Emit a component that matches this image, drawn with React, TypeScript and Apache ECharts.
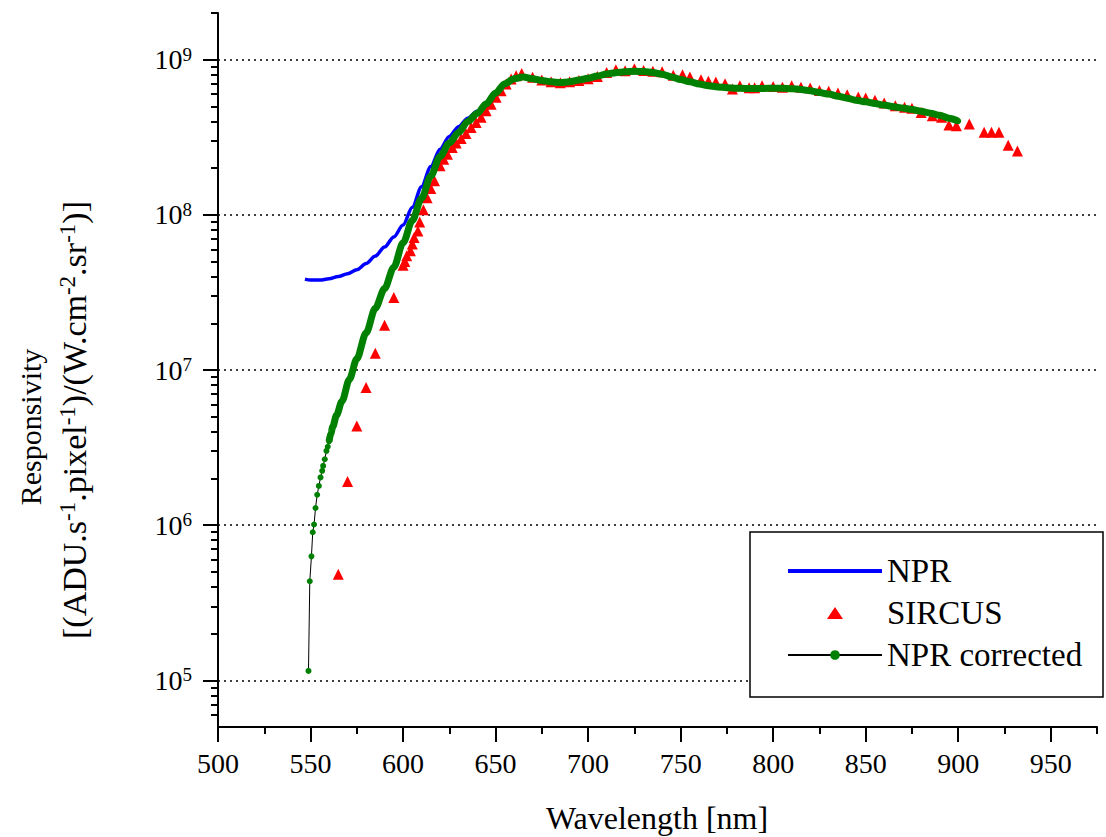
import React, { useEffect, useRef } from 'react';
import * as echarts from 'echarts';

// ---------- axis ticks ----------
const xTicks = [500, 550, 600, 650, 700, 750, 800, 850, 900, 950];
const xMinorTicks = [525, 575, 625, 675, 725, 775, 825, 875, 925, 975];
const yTickExponents = [5, 6, 7, 8, 9];
const yMinorTickValues = [
  6e4, 7e4, 8e4, 9e4,
  2e5, 3e5, 4e5, 5e5, 6e5, 7e5, 8e5, 9e5,
  2e6, 3e6, 4e6, 5e6, 6e6, 7e6, 8e6, 9e6,
  2e7, 3e7, 4e7, 5e7, 6e7, 7e7, 8e7, 9e7,
  2e8, 3e8, 4e8, 5e8, 6e8, 7e8, 8e8, 9e8,
  2e9,
];

// ---------- NPR (blue line) ----------
const nprWavelength = [
  547, 550, 555, 560, 565, 570, 575, 580, 585, 590, 595, 600, 605, 610, 615, 620, 625, 630, 635, 640,
  645, 650, 655, 660, 665, 670, 675, 680, 685, 690, 695, 700, 705, 710, 715, 720, 725, 730, 735, 740,
  745, 750, 755, 760, 765, 770, 775, 780, 785, 790, 795, 800, 805, 810, 815, 820, 825, 830, 835, 840,
  845, 850, 855, 860, 865, 870, 875, 880, 885, 890, 895, 900,
];
const nprValue = [
  3.85e7, 3.8e7, 3.8e7, 3.87e7, 4.0e7, 4.18e7, 4.43e7, 4.85e7, 5.42e7, 6.2e7, 7.2e7, 8.6e7, 1.12e8, 1.52e8, 2.05e8, 2.65e8, 3.2e8, 3.7e8, 4.2e8, 4.65e8,
  5.3e8, 6.15e8, 7.0e8, 7.55e8, 7.75e8, 7.55e8, 7.35e8, 7.2e8, 7.13e8, 7.2e8, 7.4e8, 7.6e8, 7.85e8, 8.1e8, 8.25e8, 8.36e8, 8.41e8, 8.38e8, 8.28e8, 8.05e8,
  7.75e8, 7.45e8, 7.2e8, 6.98e8, 6.8e8, 6.68e8, 6.6e8, 6.55e8, 6.53e8, 6.53e8, 6.53e8, 6.55e8, 6.55e8, 6.5e8, 6.43e8, 6.3e8, 6.15e8, 6.0e8, 5.82e8, 5.65e8,
  5.47e8, 5.35e8, 5.22e8, 5.1e8, 4.98e8, 4.88e8, 4.78e8, 4.65e8, 4.52e8, 4.38e8, 4.2e8, 4.02e8,
];

// ---------- SIRCUS (red triangles) ----------
const sircusWavelength = [
  565, 570, 575, 580, 585, 590, 595, 600, 601, 602, 604, 605, 606, 608, 609, 611, 613, 615, 617, 620,
  622, 624, 626.6, 628.7, 631.4, 634, 636.8, 639.5, 642.2, 644.9, 647.6, 650.3, 653, 655.7, 658.4, 661.1, 664.1,
  670, 675, 680, 685, 690, 695, 700, 705, 710, 715, 720, 725, 730, 735, 740, 746, 751, 755, 761, 765, 769, 774,
  778, 782, 787, 790, 794, 800, 805, 810, 815, 820, 825, 830, 835, 840, 846, 850, 855, 860, 866, 871, 875, 880,
  886, 891, 895, 899, 906, 914, 918, 922, 927, 932,
];
const sircusValue = [
  4.82e5, 1.91e6, 4.36e6, 7.71e6, 1.28e7, 1.94e7, 2.93e7, 4.74e7, 5.0e7, 5.44e7, 5.86e7, 6.48e7, 7.15e7, 7.88e7, 9.01e7, 1.08e8, 1.29e8, 1.48e8, 1.66e8, 2.07e8,
  2.28e8, 2.46e8, 2.72e8, 2.9e8, 3.11e8, 3.35e8, 3.66e8, 3.94e8, 4.25e8, 4.69e8, 5.17e8, 5.72e8, 6.31e8, 6.97e8, 7.5e8, 7.87e8, 8.16e8,
  7.7e8, 7.4e8, 7.2e8, 7.1e8, 7.2e8, 7.35e8, 7.53e8, 7.8e8, 8.28e8, 8.61e8, 8.5e8, 8.74e8, 8.53e8, 8.41e8, 8.36e8, 7.93e8, 8.0e8, 7.73e8, 7.43e8, 7.25e8, 7.17e8, 7.0e8,
  6.47e8, 6.8e8, 6.6e8, 6.6e8, 6.79e8, 6.73e8, 6.65e8, 6.79e8, 6.65e8, 6.56e8, 6.34e8, 6.25e8, 6.09e8, 5.94e8, 5.74e8, 5.66e8, 5.47e8, 5.25e8, 5.05e8, 4.94e8, 4.87e8, 4.57e8,
  4.35e8, 4.26e8, 3.8e8, 3.75e8, 3.85e8, 3.41e8, 3.41e8, 3.41e8, 2.81e8, 2.58e8,
];

// ---------- NPR corrected (green dots, black line) ----------
const correctedWavelength = [
  548.9, 549.6, 550.5, 551.2, 551.9, 552.7, 553.6, 554.5, 555.4, 556.3, 556.8, 557.7, 558.6, 559.3, 560,
  561, 562, 564, 567, 571, 575, 580, 585, 590, 595, 600, 605, 610, 615, 620, 625, 630, 635, 640,
  645, 650, 655, 660, 665, 670, 675, 680, 685, 690, 695, 700, 705, 710, 715, 720, 725, 730, 735, 740,
  745, 750, 755, 760, 765, 770, 775, 780, 785, 790, 795, 800, 805, 810, 815, 820, 825, 830, 835, 840,
  845, 850, 855, 860, 865, 870, 875, 880, 885, 890, 895, 900,
];
const correctedValue = [
  1.15e5, 4.35e5, 6.3e5, 9.0e5, 1.01e6, 1.29e6, 1.57e6, 1.79e6, 2.03e6, 2.24e6, 2.41e6, 2.66e6, 3.01e6, 3.2e6, 3.47e6,
  3.9e6, 4.3e6, 5.1e6, 6.3e6, 8.7e6, 1.18e7, 1.73e7, 2.5e7, 3.35e7, 4.6e7, 6.6e7, 9.2e7, 1.28e8, 1.78e8, 2.38e8, 2.9e8, 3.4e8, 4.0e8, 4.5e8,
  5.2e8, 6.1e8, 7.0e8, 7.55e8, 7.75e8, 7.55e8, 7.35e8, 7.2e8, 7.13e8, 7.2e8, 7.4e8, 7.6e8, 7.85e8, 8.1e8, 8.25e8, 8.36e8, 8.41e8, 8.38e8, 8.28e8, 8.05e8,
  7.75e8, 7.45e8, 7.2e8, 6.98e8, 6.8e8, 6.68e8, 6.6e8, 6.55e8, 6.53e8, 6.53e8, 6.53e8, 6.55e8, 6.55e8, 6.5e8, 6.43e8, 6.3e8, 6.15e8, 6.0e8, 5.82e8, 5.65e8,
  5.47e8, 5.35e8, 5.22e8, 5.1e8, 4.98e8, 4.88e8, 4.78e8, 4.65e8, 4.52e8, 4.38e8, 4.2e8, 4.02e8,
];

const X_MIN = 500;
const X_MAX = 975;
const Y_MIN = 5e4;
const Y_MAX = 2e9;

const FONT = 'Liberation Serif';

const pairs = (xs: number[], ys: number[]) => xs.map((x, i) => [x, Math.log10(ys[i])]);

export default function App() {
  const ref = useRef<HTMLDivElement>(null);

  useEffect(() => {
    if (!ref.current) return;
    const chart = echarts.init(ref.current, undefined, { renderer: 'svg' });

    const correctedPairs = pairs(correctedWavelength, correctedValue);
    const bandPairs = correctedPairs.filter((p) => p[0] >= 560);

    const axisLineStyle = { color: '#000', width: 2 };

    const option: any = {
      animation: false,
      backgroundColor: '#fff',
      grid: { left: 218, right: 9, top: 13, bottom: 110, containLabel: false, outerBoundsMode: 'none' },
      xAxis: [
        {
          type: 'value', min: X_MIN, max: X_MAX, position: 'bottom',
          axisLine: { onZero: false, lineStyle: axisLineStyle },
          axisTick: { customValues: xTicks, length: 15, lineStyle: axisLineStyle },
          axisLabel: { customValues: xTicks, margin: 22, color: '#000', fontFamily: FONT, fontSize: 28 },
          splitLine: { show: false },
        },
        {
          type: 'value', min: X_MIN, max: X_MAX, position: 'bottom',
          axisLine: { show: false, onZero: false },
          axisTick: { customValues: xMinorTicks, length: 7, lineStyle: axisLineStyle },
          axisLabel: { show: false },
          splitLine: { show: false },
        },
      ],
      yAxis: [
        {
          type: 'value', min: Math.log10(Y_MIN), max: Math.log10(Y_MAX), position: 'left',
          axisLine: { onZero: false, lineStyle: axisLineStyle },
          axisTick: { customValues: yTickExponents, length: 15, lineStyle: axisLineStyle },
          axisLabel: {
            customValues: yTickExponents, margin: 26,
            formatter: (v: number) => `{b|10}{s|${Math.round(v)}}`,
            rich: {
              b: { fontFamily: FONT, fontSize: 28, color: '#000', lineHeight: 30 },
              s: { fontFamily: FONT, fontSize: 19, color: '#000', lineHeight: 19, verticalAlign: 'top' },
            },
          },
          splitLine: {
            show: true,
            lineStyle: { color: '#000', width: 1.5, type: [2, 4] },
          },
        },
        {
          type: 'value', min: Math.log10(Y_MIN), max: Math.log10(Y_MAX), position: 'left',
          axisLine: { show: false, onZero: false },
          axisTick: { customValues: yMinorTickValues.map((v) => Math.log10(v)), length: 7, lineStyle: axisLineStyle },
          axisLabel: { show: false },
          splitLine: { show: false },
        },
      ],
      legend: {
        orient: 'vertical', left: 786, top: 550, padding: 0, itemGap: 0,
        itemWidth: 94, itemHeight: 12, selectedMode: false, z: 5, symbolKeepAspect: true,
        data: [
          { name: 'NPR', itemStyle: { opacity: 0 }, lineStyle: { width: 4 } },
          { name: 'SIRCUS', icon: 'path://M8,0L16,12L0,12Z' },
          { name: 'NPR corrected' },
        ],
        textStyle: { fontFamily: FONT, fontSize: 33, color: '#000', lineHeight: 42 },
      },
      graphic: [
        {
          type: 'rect', z: 3, silent: true,
          shape: { x: 750, y: 532, width: 353, height: 165 },
          style: { fill: '#fff', stroke: '#000', lineWidth: 1.5 },
        },
        {
          type: 'text', x: 657, y: 818, silent: true,
          style: { text: 'Wavelength [nm]', fontFamily: FONT, fontSize: 32, fill: '#000', align: 'center', verticalAlign: 'middle' },
        },
        {
          type: 'text', x: 30, y: 427, rotation: Math.PI / 2, silent: true,
          style: { text: 'Responsivity', fontFamily: FONT, fontSize: 30, fill: '#000', align: 'center', verticalAlign: 'middle' },
        },
        {
          type: 'text', x: 74, y: 420, rotation: Math.PI / 2, silent: true,
          style: {
            text: '[(ADU.s{s|-1}.pixel{s|-1})/(W.cm{s|-2}.sr{s|-1})]',
            fontFamily: FONT, fontSize: 34, fill: '#000', align: 'center', verticalAlign: 'middle', lineHeight: 36,
            rich: { s: { fontFamily: FONT, fontSize: 23, fill: '#000', lineHeight: 23, verticalAlign: 'top' } },
          },
        },
      ],
      series: [
        {
          name: 'NPR', type: 'line', z: 2, data: pairs(nprWavelength, nprValue),
          symbol: 'none', smooth: 0.3, smoothMonotone: 'x',
          lineStyle: { color: '#0000ff', width: 3.5 }, itemStyle: { color: '#0000ff' },
        },
        {
          name: 'SIRCUS', type: 'scatter', z: 3, data: pairs(sircusWavelength, sircusValue),
          symbol: 'triangle', symbolSize: 11, itemStyle: { color: '#ff0000', opacity: 1 },
        },
        {
          name: 'NPR corrected', type: 'line', z: 3.5, data: correctedPairs,
          symbol: 'circle', symbolSize: 6, showSymbol: true,
          lineStyle: { color: '#000', width: 1 }, itemStyle: { color: '#008000' },
        },
        {
          name: 'band', type: 'line', z: 4, data: bandPairs, silent: true,
          symbol: 'none', smooth: 0.3, smoothMonotone: 'x',
          lineStyle: { color: '#008000', width: 7 },
        },
      ],
    };

    chart.setOption(option);
    return () => chart.dispose();
  }, []);

  return <div ref={ref} style={{ position: 'absolute', left: 0, top: 0, width: 1106, height: 837 }} />;
}
